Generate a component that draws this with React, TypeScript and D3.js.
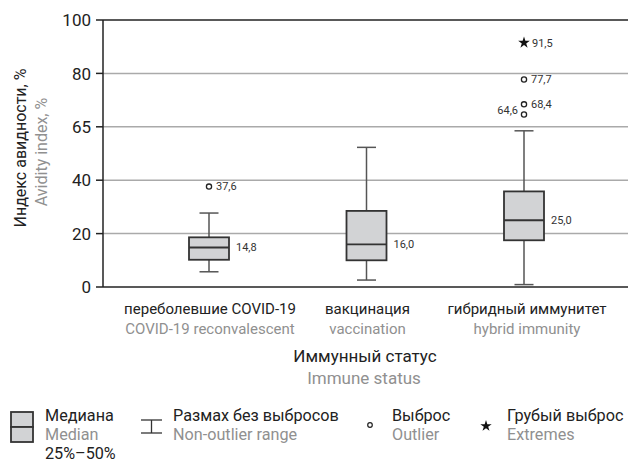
import React from "react";
import * as d3 from "d3";

const categoriesRu = ["переболевшие COVID-19", "вакцинация", "гибридный иммунитет"];
const categoriesEn = ["COVID-19 reconvalescent", "vaccination", "hybrid immunity"];
const whiskerLow = [5.7, 2.6, 0.9];
const q1 = [10.2, 10.0, 17.5];
const medians = [14.8, 16.0, 25.0];
const q3 = [18.6, 28.5, 35.8];
const whiskerHigh = [27.7, 52.3, 58.5];
const medianLabels = ["14,8", "16,0", "25,0"];

const outlierCat = [0, 2, 2, 2];
const outlierVals = [37.6, 77.7, 68.4, 64.6];
const outlierLabels = ["37,6", "77,7", "68,4", "64,6"];
const outlierSide = ["right", "right", "right", "left"];

const extremeCat = [2];
const extremeVals = [91.5];
const extremeLabels = ["91,5"];

const tickValues = [0, 20, 40, 60, 80, 100];
const tickLabels = ["0", "20", "40", "65", "80", "100"];

const W = 628;
const H = 462;
const FONT = "Roboto, 'Noto Sans', sans-serif";
const GRAY = "#909090";
const DARK = "#333";
const FILL = "#d2d3d5";
const LF = 16.2;

export default function App() {
  const y = d3.scaleLinear().domain([0, 100]).range([287, 20]);
  const x = d3.scalePoint<string>().domain(categoriesRu).range([209, 524]);
  const left = 103;
  const right = 628;
  const boxW = 40;
  const capW = 19;
  const star = d3.symbol().type(d3.symbolStar).size(42)() as string;
  const starLegend = d3.symbol().type(d3.symbolStar).size(40)() as string;

  return (
    <svg
      width={W}
      height={H}
      style={{ position: "absolute", left: 0, top: 0, background: "#fff" }}
      fontFamily={FONT}
    >
      {/* gridlines */}
      {tickValues.map((t, i) => (
        <line
          key={"g" + i}
          x1={left}
          x2={right}
          y1={y(t)}
          y2={y(t)}
          stroke={t === 0 || t === 100 ? "#222" : "#aaa"}
          strokeWidth={1.5}
        />
      ))}
      {/* y axis */}
      <line x1={left} x2={left} y1={y(100)} y2={y(0)} stroke="#222" strokeWidth={1.5} />
      {tickValues.map((t, i) => (
        <g key={"t" + i}>
          <line x1={96} x2={left} y1={y(t)} y2={y(t)} stroke="#222" strokeWidth={1.5} />
          <text x={91} y={y(t)} dy="0.36em" textAnchor="end" fontSize={17} fill="#222">
            {tickLabels[i]}
          </text>
        </g>
      ))}
      {/* y title */}
      <text
        transform={`translate(26,148) rotate(-90)`}
        textAnchor="middle"
        fontSize={16}
        fill="#222"
      >
        Индекс авидности, %
      </text>
      <text
        transform={`translate(47,152) rotate(-90)`}
        textAnchor="middle"
        fontSize={16}
        fill={GRAY}
      >
        Avidity index, %
      </text>

      {/* boxes */}
      {categoriesRu.map((c, i) => {
        const cx = x(c) as number;
        return (
          <g key={"b" + i}>
            <line x1={cx} x2={cx} y1={y(whiskerHigh[i])} y2={y(q3[i])} stroke="#555" strokeWidth={1.5} />
            <line x1={cx} x2={cx} y1={y(q1[i])} y2={y(whiskerLow[i])} stroke="#555" strokeWidth={1.5} />
            <line x1={cx - capW / 2} x2={cx + capW / 2} y1={y(whiskerHigh[i])} y2={y(whiskerHigh[i])} stroke="#555" strokeWidth={1.5} />
            <line x1={cx - capW / 2} x2={cx + capW / 2} y1={y(whiskerLow[i])} y2={y(whiskerLow[i])} stroke="#555" strokeWidth={1.5} />
            <rect
              x={cx - boxW / 2}
              y={y(q3[i])}
              width={boxW}
              height={y(q1[i]) - y(q3[i])}
              fill={FILL}
              stroke={DARK}
              strokeWidth={1.8}
            />
            <line x1={cx - boxW / 2} x2={cx + boxW / 2} y1={y(medians[i])} y2={y(medians[i])} stroke={DARK} strokeWidth={1.8} />
            <text x={cx + boxW / 2 + 7} y={y(medians[i])} dy="0.35em" fontSize={11} fill={DARK}>
              {medianLabels[i]}
            </text>
          </g>
        );
      })}

      {/* outliers */}
      {outlierVals.map((v, i) => {
        const cx = x(categoriesRu[outlierCat[i]]) as number;
        const cy = y(v);
        const isLeft = outlierSide[i] === "left";
        return (
          <g key={"o" + i}>
            <circle cx={cx} cy={cy} r={2.6} fill="#fff" stroke="#222" strokeWidth={1.3} />
            <text
              x={isLeft ? cx - 6 : cx + 7}
              y={isLeft ? cy - 4 : cy}
              dy="0.35em"
              textAnchor={isLeft ? "end" : "start"}
              fontSize={11}
              fill={DARK}
            >
              {outlierLabels[i]}
            </text>
          </g>
        );
      })}
      {extremeVals.map((v, i) => {
        const cx = x(categoriesRu[extremeCat[i]]) as number;
        const cy = y(v);
        return (
          <g key={"e" + i}>
            <path d={star} transform={`translate(${cx},${cy})`} fill="#111" />
            <text x={cx + 8} y={cy} dy="0.35em" fontSize={11} fill={DARK}>
              {extremeLabels[i]}
            </text>
          </g>
        );
      })}

      {/* x category labels */}
      {categoriesRu.map((c, i) => {
        const cx = (x(c) as number) + (i === 2 ? 3 : 1);
        return (
          <g key={"x" + i}>
            <text x={cx} y={314} textAnchor="middle" fontSize={15} fill="#222">
              {c}
            </text>
            <text x={cx} y={334} textAnchor="middle" fontSize={15} fill={GRAY}>
              {categoriesEn[i]}
            </text>
          </g>
        );
      })}
      <text x={365} y={362} textAnchor="middle" fontSize={17} fill="#222">
        Иммунный статус
      </text>
      <text x={364} y={384} textAnchor="middle" fontSize={17} fill={GRAY}>
        Immune status
      </text>

      {/* legend */}
      <rect x={11} y={412} width={22} height={15} fill={FILL} stroke={DARK} strokeWidth={1.8} />
      <rect x={11} y={427} width={22} height={15} fill={FILL} stroke={DARK} strokeWidth={1.8} />
      <text x={45} y={421} fontSize={LF} fill="#222">Медиана</text>
      <text x={45} y={440} fontSize={LF} fill={GRAY}>Median</text>
      <text x={45} y={459} fontSize={LF} fill="#222">25%–50%</text>

      <line x1={141} x2={162} y1={420} y2={420} stroke="#333" strokeWidth={1.3} />
      <line x1={141} x2={162} y1={433} y2={433} stroke="#333" strokeWidth={1.3} />
      <line x1={151.5} x2={151.5} y1={420} y2={433} stroke="#333" strokeWidth={1.3} />
      <text x={173} y={421} fontSize={LF} fill="#222">Размах без выбросов</text>
      <text x={173} y={440} fontSize={LF} fill={GRAY}>Non-outlier range</text>

      <circle cx={370} cy={425} r={2.3} fill="#fff" stroke="#222" strokeWidth={1.2} />
      <text x={392} y={421} fontSize={LF} fill="#222">Выброс</text>
      <text x={392} y={440} fontSize={LF} fill={GRAY}>Outlier</text>

      <path d={starLegend} transform="translate(486,426)" fill="#111" />
      <text x={507} y={421} fontSize={LF} fill="#222">Грубый выброс</text>
      <text x={507} y={440} fontSize={LF} fill={GRAY}>Extremes</text>
    </svg>
  );
}
